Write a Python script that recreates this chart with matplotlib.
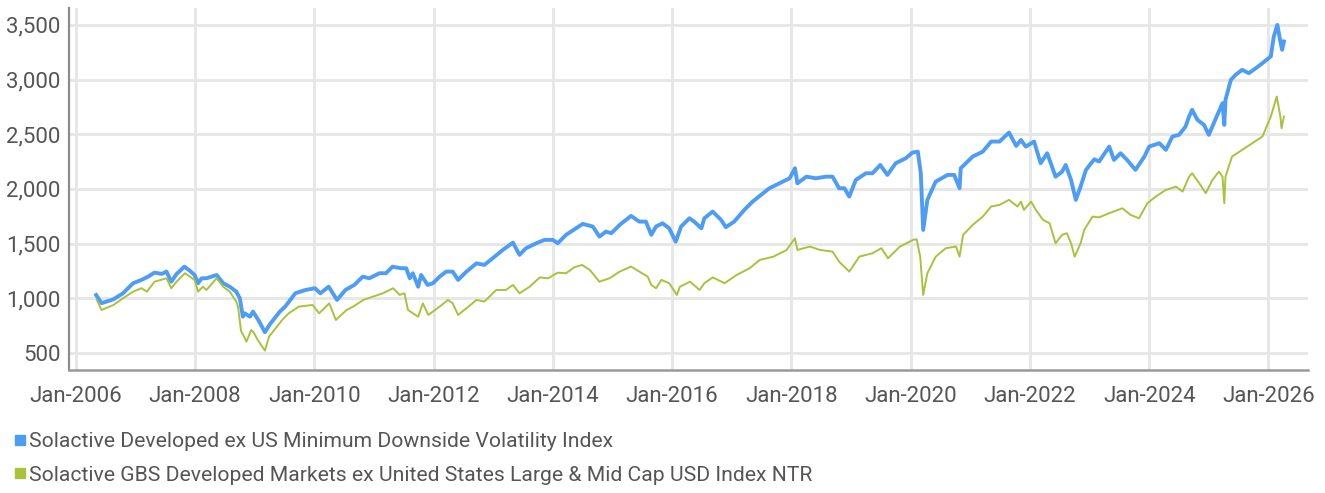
import numpy as np
import matplotlib
matplotlib.use("Agg")
import matplotlib.pyplot as plt
from matplotlib.lines import Line2D

# --- series (decimal years, index level) ---
min_vol_years = [
    2006.34, 2006.43, 2006.63, 2006.79, 2006.96, 2007.10, 2007.21, 2007.32, 2007.44, 2007.52,
    2007.60, 2007.69, 2007.82, 2007.91, 2007.99, 2008.05, 2008.11, 2008.19, 2008.36, 2008.47,
    2008.58, 2008.69, 2008.75, 2008.80, 2008.83, 2008.92, 2008.97, 2009.06, 2009.17, 2009.25,
    2009.42, 2009.51, 2009.68, 2009.85, 2010.01, 2010.10, 2010.24, 2010.38, 2010.52, 2010.67,
    2010.81, 2010.92, 2011.09, 2011.20, 2011.31, 2011.45, 2011.54, 2011.60, 2011.65, 2011.74,
    2011.79, 2011.90, 2011.99, 2012.10, 2012.21, 2012.32, 2012.41, 2012.55, 2012.72, 2012.85,
    2012.99, 2013.16, 2013.33, 2013.44, 2013.55, 2013.72, 2013.86, 2014.00, 2014.08, 2014.22,
    2014.39, 2014.50, 2014.67, 2014.78, 2014.89, 2014.98, 2015.12, 2015.31, 2015.45, 2015.56,
    2015.65, 2015.73, 2015.84, 2015.95, 2016.06, 2016.15, 2016.29, 2016.37, 2016.49, 2016.54,
    2016.68, 2016.82, 2016.90, 2017.04, 2017.21, 2017.35, 2017.49, 2017.63, 2017.80, 2017.97,
    2018.06, 2018.10, 2018.25, 2018.41, 2018.58, 2018.69, 2018.80, 2018.89, 2018.97, 2019.08,
    2019.25, 2019.36, 2019.49, 2019.61, 2019.75, 2019.92, 2020.03, 2020.12, 2020.17, 2020.21,
    2020.28, 2020.42, 2020.62, 2020.73, 2020.82, 2020.84, 2021.04, 2021.21, 2021.35, 2021.49,
    2021.65, 2021.77, 2021.85, 2021.93, 2022.07, 2022.18, 2022.29, 2022.43, 2022.54, 2022.60,
    2022.69, 2022.77, 2022.85, 2022.94, 2023.08, 2023.16, 2023.33, 2023.41, 2023.52, 2023.63,
    2023.77, 2023.92, 2024.00, 2024.17, 2024.28, 2024.39, 2024.50, 2024.61, 2024.67, 2024.72,
    2024.81, 2024.92, 2025.00, 2025.12, 2025.23, 2025.26, 2025.28, 2025.37, 2025.45, 2025.56,
    2025.67, 2025.79, 2025.90, 2026.04, 2026.09, 2026.15, 2026.20, 2026.23, 2026.26,
]
min_vol_values = [
    1030, 955, 991, 1046, 1138, 1168, 1198, 1235, 1223, 1244,
    1152, 1223, 1289, 1253, 1213, 1138, 1183, 1183, 1213, 1138,
    1106, 1061, 1000, 832, 863, 832, 878, 802, 690, 760,
    878, 924, 1046, 1076, 1092, 1046, 1106, 985, 1076, 1122,
    1198, 1183, 1229, 1229, 1289, 1275, 1275, 1183, 1229, 1106,
    1213, 1122, 1138, 1198, 1244, 1244, 1168, 1244, 1320, 1305,
    1366, 1442, 1509, 1397, 1458, 1503, 1534, 1534, 1503, 1580,
    1640, 1680, 1656, 1564, 1610, 1595, 1671, 1753, 1701, 1701,
    1580, 1656, 1686, 1640, 1518, 1656, 1732, 1701, 1640, 1732,
    1793, 1717, 1650, 1701, 1808, 1884, 1945, 2006, 2051, 2097,
    2189, 2051, 2112, 2097, 2112, 2112, 2006, 2006, 1930, 2082,
    2143, 2143, 2219, 2128, 2235, 2281, 2332, 2341, 2143, 1625,
    1900, 2067, 2128, 2128, 2006, 2189, 2296, 2341, 2433, 2433,
    2515, 2393, 2448, 2387, 2433, 2235, 2326, 2112, 2158, 2219,
    2082, 1900, 2021, 2174, 2271, 2250, 2387, 2265, 2326, 2265,
    2174, 2296, 2387, 2418, 2357, 2479, 2494, 2570, 2662, 2723,
    2631, 2585, 2494, 2647, 2784, 2585, 2814, 2997, 3043, 3089,
    3058, 3104, 3150, 3211, 3393, 3500, 3348, 3272, 3348,
]

gbs_years = [
    2006.35, 2006.43, 2006.63, 2006.79, 2006.96, 2007.10, 2007.19, 2007.32, 2007.52, 2007.60,
    2007.69, 2007.83, 2007.99, 2008.05, 2008.13, 2008.19, 2008.36, 2008.47, 2008.58, 2008.69,
    2008.72, 2008.77, 2008.83, 2008.86, 2008.94, 2008.98, 2009.05, 2009.17, 2009.24, 2009.35,
    2009.46, 2009.57, 2009.74, 2009.97, 2010.08, 2010.25, 2010.36, 2010.54, 2010.65, 2010.82,
    2010.98, 2011.15, 2011.32, 2011.43, 2011.51, 2011.57, 2011.74, 2011.82, 2011.91, 2012.10,
    2012.24, 2012.32, 2012.41, 2012.55, 2012.72, 2012.85, 2013.05, 2013.21, 2013.33, 2013.44,
    2013.61, 2013.78, 2013.92, 2014.08, 2014.22, 2014.36, 2014.49, 2014.62, 2014.78, 2014.95,
    2015.12, 2015.31, 2015.45, 2015.59, 2015.65, 2015.73, 2015.82, 2015.95, 2016.08, 2016.13,
    2016.30, 2016.46, 2016.54, 2016.68, 2016.88, 2017.08, 2017.30, 2017.47, 2017.70, 2017.92,
    2018.06, 2018.10, 2018.31, 2018.48, 2018.69, 2018.80, 2018.97, 2019.14, 2019.36, 2019.51,
    2019.62, 2019.82, 2020.04, 2020.10, 2020.16, 2020.21, 2020.28, 2020.42, 2020.59, 2020.76,
    2020.82, 2020.88, 2021.04, 2021.21, 2021.35, 2021.49, 2021.65, 2021.79, 2021.85, 2021.90,
    2022.02, 2022.10, 2022.22, 2022.33, 2022.43, 2022.54, 2022.62, 2022.69, 2022.75, 2022.85,
    2022.91, 2023.05, 2023.16, 2023.33, 2023.55, 2023.69, 2023.83, 2023.97, 2024.11, 2024.28,
    2024.45, 2024.56, 2024.67, 2024.72, 2024.84, 2024.95, 2025.06, 2025.17, 2025.23, 2025.26,
    2025.28, 2025.39, 2025.56, 2025.73, 2025.90, 2026.04, 2026.14, 2026.20, 2026.22, 2026.26,
]
gbs_values = [
    985, 893, 939, 1000, 1061, 1092, 1061, 1152, 1183, 1092,
    1152, 1229, 1168, 1061, 1106, 1076, 1183, 1106, 1061, 970,
    920, 700, 640, 603, 710, 690, 619, 522, 650, 726,
    802, 863, 924, 939, 863, 954, 802, 893, 924, 985,
    1015, 1046, 1092, 1031, 1046, 893, 832, 954, 848, 924,
    985, 954, 848, 909, 985, 970, 1076, 1076, 1122, 1046,
    1106, 1191, 1183, 1234, 1229, 1284, 1305, 1259, 1152, 1183,
    1244, 1290, 1244, 1198, 1122, 1092, 1168, 1138, 1031, 1106,
    1152, 1076, 1138, 1191, 1138, 1213, 1275, 1351, 1381, 1442,
    1549, 1442, 1473, 1442, 1427, 1335, 1244, 1381, 1412, 1458,
    1366, 1473, 1534, 1540, 1381, 1031, 1229, 1381, 1458, 1473,
    1381, 1580, 1671, 1747, 1839, 1854, 1900, 1839, 1884, 1808,
    1884, 1808, 1717, 1686, 1503, 1580, 1595, 1503, 1381, 1503,
    1625, 1747, 1740, 1778, 1823, 1762, 1732, 1869, 1930, 1991,
    2021, 1976, 2112, 2143, 2052, 1961, 2082, 2158, 2112, 1869,
    2112, 2296, 2357, 2418, 2479, 2662, 2845, 2662, 2555, 2662,
]

series_labels = [
    "Solactive Developed ex US Minimum Downside Volatility Index",
    "Solactive GBS Developed Markets ex United States Large & Mid Cap USD Index NTR",
]
y_ticks = [500, 1000, 1500, 2000, 2500, 3000, 3500]
x_ticks = [2006, 2008, 2010, 2012, 2014, 2016, 2018, 2020, 2022, 2024, 2026]
x_tick_labels = ["Jan-%d" % y for y in x_ticks]

BLUE = "#4d9df6"
GREEN = "#a9c23c"
TEXT = "#555555"

plt.rcParams["font.family"] = ["Roboto", "DejaVu Sans"]

fig = plt.figure(figsize=(13.25, 4.93), dpi=100)
ax = fig.add_axes([0.052, 0.2505, 0.935, 0.7335])

ax.plot(min_vol_years, min_vol_values, color=BLUE, lw=2.8, solid_joinstyle="round", zorder=3)
ax.plot(gbs_years, gbs_values, color=GREEN, lw=1.4, zorder=4)

ax.set_xlim(2005.883, 2026.66)
ax.set_ylim(349, 3655)
ax.set_yticks(y_ticks)
ax.set_yticklabels(["{:,}".format(v) for v in y_ticks])
ax.set_xticks(x_ticks)
ax.set_xticklabels(x_tick_labels)
ax.tick_params(axis="both", length=0, labelsize=16, colors=TEXT)
ax.tick_params(axis="y", pad=6)
ax.tick_params(axis="x", pad=12)

ax.grid(True, color="#e6e6e6", lw=2.0, zorder=0)
ax.set_axisbelow(True)
for side in ["top", "right"]:
    ax.spines[side].set_visible(False)
ax.spines["left"].set_color("#8c8c8c")
ax.spines["left"].set_linewidth(1.6)
ax.spines["bottom"].set_color("#9a9a9a")
ax.spines["bottom"].set_linewidth(1.8)

handles = [
    Line2D([], [], marker="s", linestyle="none", markersize=7.5, color=BLUE),
    Line2D([], [], marker="s", linestyle="none", markersize=7.5, color=GREEN),
]
fig.legend(handles, series_labels, loc="upper left", bbox_to_anchor=(0.002, 0.145),
           frameon=False, fontsize=15.2, labelcolor=TEXT, handlelength=0.6,
           handletextpad=0.15, labelspacing=0.7, borderpad=0.0)

fig.savefig("out.png", dpi=100)
